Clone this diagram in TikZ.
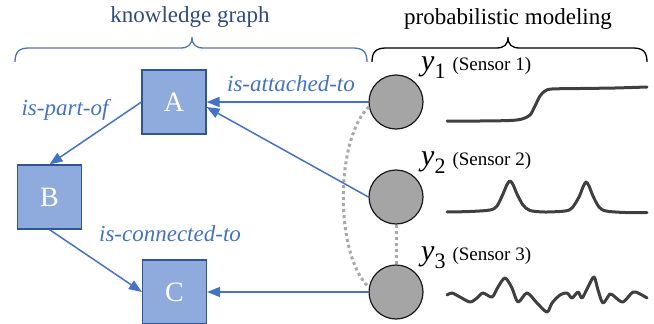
\documentclass[tikz,border=0pt]{standalone}
\usepackage{fontspec}
\setmainfont{Liberation Serif}
\usetikzlibrary{arrows.meta}
\definecolor{kgblue}{HTML}{4472C4}
\definecolor{boxfill}{HTML}{8FAADC}
\definecolor{boxline}{HTML}{2F5597}
\definecolor{titleblue}{HTML}{2F4A7C}
\definecolor{bracebl}{HTML}{5274B4}
\definecolor{nodegray}{HTML}{A5A5A5}
\definecolor{dotgray}{HTML}{A8A8A8}
\definecolor{curvegray}{HTML}{3F3F3F}
\begin{document}
\begin{tikzpicture}[x=1pt,y=-1pt,
  entity/.style={draw=boxline, fill=boxfill, line width=1.2pt, minimum size=64pt, inner sep=0pt, text=white, font=\fontsize{28}{28}\selectfont},
  var/.style={circle, draw=black!90, fill=nodegray, line width=1.2pt, minimum size=54pt, inner sep=0pt},
  rel/.style={draw=kgblue, line width=1.5pt, -{Triangle[length=13pt,width=10pt]}},
  rellabel/.style={text=kgblue, font=\fontsize{23}{23}\selectfont\itshape, anchor=base, inner sep=0pt},
  title/.style={font=\fontsize{23}{23}\selectfont, anchor=base, inner sep=0pt},
  dotlink/.style={draw=dotgray, line width=3pt, dash pattern=on 3pt off 3pt},
  signal/.style={draw=curvegray, line width=3pt, line cap=round, line join=round},
  sensor/.style={anchor=base west, inner sep=0pt},
  bracestyle/.style={line width=1.3pt},
]
\useasboundingbox (0,0) rectangle (654,324);

% titles
\node[title, text=titleblue] (kgtitle) at (190,23) {knowledge graph};
\node[title] (pmtitle) at (508,24) {probabilistic modeling};

% braces
\draw[bracestyle, draw=bracebl] (15,62) .. controls (15,52) and (19,48) .. (29,48) -- (180,48) .. controls (188,48) and (192,45) .. (192,37) .. controls (192,45) and (196,48) .. (204,48) -- (353,48) .. controls (363,48) and (367,52) .. (367,62);
\draw[bracestyle, draw=black] (372,62) .. controls (372,52) and (376,48) .. (386,48) -- (496,48) .. controls (504,48) and (508,45) .. (508,37) .. controls (508,45) and (512,48) .. (520,48) -- (633,48) .. controls (643,48) and (647,52) .. (647,62);

% entities
\node[entity] (A) at (174,102) {A};
\node[entity] (B) at (49.5,197) {B};
\node[entity] (C) at (174.5,292) {C};

% variables
\node[var] (c1) at (396,102) {};
\node[var] (c2) at (396,197) {};
\node[var] (c3) at (396,292) {};

% dotted dependencies
\draw[dotlink] (c1.190) .. controls +(-34,33) and +(-34,-32) .. (c3.170);
\draw[dotlink] (c2.south) -- (c3.north);

% relations
\draw[rel] (A.west) -- (B.north);
\draw[rel] (B.south) -- (C.west);
\draw[rel] (c1.west) -- (A.east);
\draw[rel] (c2.west) -- ([yshift=-5pt]A.east);
\draw[rel] (c3.west) -- (C.east);

% relation labels
\node[rellabel] (l1) at (65,115) {is-part-of};
\node[rellabel] (l2) at (291,91) {is-attached-to};
\node[rellabel] (l3) at (170,241) {is-connected-to};

% sensor labels
\node[sensor] (s1) at (421,70) {{\fontsize{30}{30}\selectfont\itshape y}\raisebox{-8pt}{\fontsize{22}{22}\selectfont 1}\hspace{7pt}{\fontsize{19}{19}\selectfont (Sensor 1)}};
\node[sensor] (s2) at (421,165) {{\fontsize{30}{30}\selectfont\itshape y}\raisebox{-8pt}{\fontsize{22}{22}\selectfont 2}\hspace{7pt}{\fontsize{19}{19}\selectfont (Sensor 2)}};
\node[sensor] (s3) at (421,260) {{\fontsize{30}{30}\selectfont\itshape y}\raisebox{-8pt}{\fontsize{22}{22}\selectfont 3}\hspace{7pt}{\fontsize{19}{19}\selectfont (Sensor 3)}};

% signals
\draw[signal] plot[smooth, tension=0.5] coordinates {(447,121) (480,121) (510,120.5) (522,119) (530,115) (535,106) (540,96) (545,91) (552,89) (580,88.5) (615,88) (647,87)};
\draw[signal] plot[smooth, tension=0.5] coordinates {(447,212) (470,211.5) (490,210) (497,206) (503,194) (507,184.5) (510,181) (513,184.5) (517,194) (523,205) (530,210.5) (545,212) (565,211) (572,208) (579,197) (583,187) (586,182) (589,186) (593,196) (599,207) (606,211) (625,212.5) (647,212.5)};
\draw[signal] plot[smooth, tension=0.5] coordinates {(447,295) (452,293) (460,297) (470,302) (477,298) (483,293) (492,297) (498,287) (505,278) (512,288) (518,302) (527,293) (537,303) (547,312) (552,303) (560,295) (567,293) (572,298) (578,292) (582,298) (588,287) (594,277) (598,290) (603,303) (610,294) (615,297) (623,302) (633,292) (640,294) (647,298)};
\end{tikzpicture}
\end{document}
